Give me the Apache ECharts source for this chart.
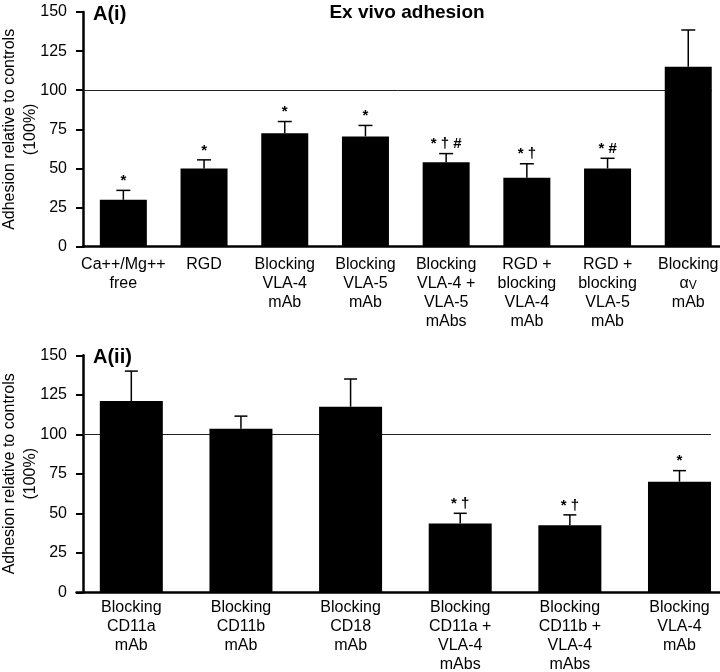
<!DOCTYPE html>
<html>
<head>
<meta charset="utf-8">
<script src="https://cdn.jsdelivr.net/npm/echarts@6/dist/echarts.min.js"></script>
<style>html,body{margin:0;padding:0;background:#fff;}#c{width:720px;height:672px;}</style>
</head>
<body>
<div id="c"></div>
<script>
// ---- Data ----
const topCategories = ['Ca++/Mg++\nfree', 'RGD', 'Blocking\nVLA-4\nmAb', 'Blocking\nVLA-5\nmAb',
  'Blocking\nVLA-4 +\nVLA-5\nmAbs', 'RGD +\nblocking\nVLA-4\nmAb', 'RGD +\nblocking\nVLA-5\nmAb', 'Blocking\nαV\nmAb'];
const topMeans = [30, 50, 72.5, 70.5, 54, 44, 50, 115];
const topErrors = [6, 5.5, 7.5, 7, 5.5, 9, 6.5, 23.5];
const topMarks = ['*', '*', '*', '*', '*†#', '*†', '*#', ''];

const bottomCategories = ['Blocking\nCD11a\nmAb', 'Blocking\nCD11b\nmAb', 'Blocking\nCD18\nmAb',
  'Blocking\nCD11a +\nVLA-4\nmAbs', 'Blocking\nCD11b +\nVLA-4\nmAbs', 'Blocking\nVLA-4\nmAb'];
const bottomMeans = [121, 103.5, 117.5, 43.5, 42.5, 70];
const bottomErrors = [19, 8, 17.5, 6.5, 6.5, 7];
const bottomMarks = ['', '', '', '*†', '*†', '*'];

const yTicks = [0, 25, 50, 75, 100, 125, 150];
const controlLevel = 100;

// ---- Chart ----
const FONT = 'Liberation Sans, Arial, Helvetica, sans-serif';
const TOP_BAR_W = 47, BOTTOM_BAR_W = 63;
const chart = echarts.init(document.getElementById('c'), null, {renderer: 'canvas'});

function errorSeries(gridIdx, means, errs, marks, capHalf) {
  return {
    type: 'custom',
    xAxisIndex: gridIdx, yAxisIndex: gridIdx,
    z: 4,
    silent: true,
    data: means.map((m, i) => [i, m, errs[i]]),
    renderItem: function (params, api) {
      const i = api.value(0), m = api.value(1), e = api.value(2);
      const base = api.coord([i, m]);
      const top = api.coord([i, m + e]);
      const children = [
        {type: 'line', shape: {x1: base[0], y1: base[1], x2: top[0], y2: top[1]}, style: {stroke: '#000', lineWidth: 1.5}},
        {type: 'line', shape: {x1: top[0] - capHalf, y1: top[1], x2: top[0] + capHalf, y2: top[1]}, style: {stroke: '#000', lineWidth: 1.5}}
      ];
      const mk = marks[params.dataIndex];
      if (mk) {
        children.push({type: 'text', x: top[0], y: top[1] - 2,
          style: {text: mk.split('').join(' '), fill: '#000', font: 'bold 15px ' + FONT, textAlign: 'center', textVerticalAlign: 'bottom'}});
      }
      return {type: 'group', children: children};
    }
  };
}

function refLine(gridIdx) {
  return {
    id: 'ref' + gridIdx,
    type: 'line', xAxisIndex: gridIdx, yAxisIndex: gridIdx, data: [], z: 1,
    markLine: {
      silent: true, symbol: 'none', z: 1,
      label: {show: false},
      lineStyle: {color: '#222', width: 1, type: 'solid'},
      data: [{yAxis: controlLevel}]
    }
  };
}

function yAxisCfg(gridIdx, offset) {
  return {
    type: 'value', gridIndex: gridIdx, min: yTicks[0], max: yTicks[yTicks.length - 1], interval: 25,
    offset: offset,
    name: 'Adhesion relative to controls\n(100%)',
    nameLocation: 'middle', nameGap: 42, nameMoveOverlap: false,
    nameTextStyle: {fontSize: 16, fontFamily: FONT, color: '#000', lineHeight: 21},
    axisLine: {show: true, lineStyle: {color: '#000', width: 2.5}},
    axisTick: {show: true, length: 7, lineStyle: {color: '#000', width: 2}},
    axisLabel: {fontSize: 16, fontFamily: FONT, color: '#000', margin: 16},
    splitLine: {show: false}
  };
}

function xAxisCfg(gridIdx, cats, margin) {
  return {
    type: 'category', gridIndex: gridIdx, data: cats,
    axisLine: {show: true, lineStyle: {color: '#000', width: 2.5}},
    axisTick: {show: false},
    axisLabel: {
      interval: 0, fontSize: 16, fontFamily: FONT, color: '#000', lineHeight: 19, margin: margin,
      hideOverlap: false,
      formatter: function (v) { return v.replace('αV', '{a|α}{v|V}'); },
      rich: {
        a: {fontSize: 16, fontFamily: FONT, color: '#000', lineHeight: 19},
        v: {fontSize: 12, fontFamily: FONT, color: '#000', lineHeight: 19, padding: [4, 0, 0, 0]}
      }
    }
  };
}

const option = {
  animation: false,
  backgroundColor: '#fff',
  title: [
    {text: 'Ex vivo adhesion', left: 402, top: -2, textAlign: 'center',
      textStyle: {fontSize: 19, fontWeight: 'bold', fontFamily: FONT, color: '#000'}},
    {text: 'A(i)', left: 88, top: -1, textStyle: {fontSize: 20, fontWeight: 'bold', fontFamily: FONT, color: '#000'}},
    {text: 'A(ii)', left: 88, top: 342, textStyle: {fontSize: 20, fontWeight: 'bold', fontFamily: FONT, color: '#000'}}
  ],
  grid: [
    {left: 83, top: 12, right: -8.6, height: 234.7, containLabel: false, outerBoundsMode: 'none'},
    {left: 76.5, top: 355.3, right: -14.3, height: 237, containLabel: false, outerBoundsMode: 'none'}
  ],
  xAxis: [xAxisCfg(0, topCategories, 8), xAxisCfg(1, bottomCategories, 6)],
  yAxis: [yAxisCfg(0, 0), yAxisCfg(1, -6.5)],
  series: [
    refLine(0),
    refLine(1),
    {type: 'bar', xAxisIndex: 0, yAxisIndex: 0, data: topMeans, barWidth: TOP_BAR_W, z: 3,
      itemStyle: {color: '#000'}, silent: true},
    {type: 'bar', xAxisIndex: 1, yAxisIndex: 1, data: bottomMeans, barWidth: BOTTOM_BAR_W, z: 3,
      itemStyle: {color: '#000'}, silent: true},
    errorSeries(0, topMeans, topErrors, topMarks, 7),
    errorSeries(1, bottomMeans, bottomErrors, bottomMarks, 6.5)
  ]
};
chart.setOption(option);

// Limit the control line: from the y axis line to the right edge of the last bar (pixels from the axes' scales)
function limitRefLine(gridIdx, nCats, barW, axisOffset) {
  const y = chart.convertToPixel({yAxisIndex: gridIdx}, controlLevel);
  const rect = chart.getModel().getComponent('grid', gridIdx).coordinateSystem.getRect();
  const x0 = rect.x - axisOffset;
  const x1 = chart.convertToPixel({xAxisIndex: gridIdx}, nCats - 1) + barW / 2;
  return {id: 'ref' + gridIdx, markLine: {data: [[{x: x0, y: y}, {x: x1, y: y}]]}};
}
chart.setOption({series: [
  limitRefLine(0, topCategories.length, TOP_BAR_W, 0),
  limitRefLine(1, bottomCategories.length, BOTTOM_BAR_W, -6.5)
]});
</script>
</body>
</html>
